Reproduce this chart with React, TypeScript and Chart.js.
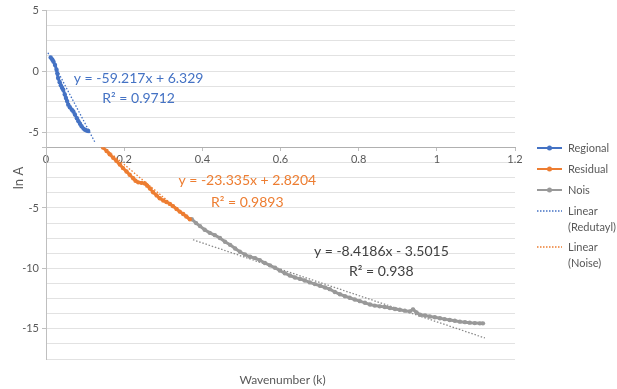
import { useEffect, useRef } from 'react';
import { Chart, registerables } from 'chart.js';

Chart.register(...registerables);

// ---- data ----
const xTickStep = 0.2;
const yStep = 1.25;

const regionalX = [0.012, 0.016, 0.019, 0.023, 0.027, 0.029, 0.031, 0.035, 0.038, 0.041, 0.044, 0.048, 0.051, 0.054, 0.057, 0.061, 0.066, 0.070, 0.074, 0.079, 0.083, 0.087, 0.091, 0.096, 0.100, 0.104, 0.108];
const regionalY = [1.11, 0.95, 0.79, 0.51, 0.11, -0.2, -0.57, -0.9, -1.16, -1.35, -1.52, -1.9, -2.2, -2.45, -2.74, -2.95, -3.15, -3.3, -3.55, -3.85, -4.09, -4.3, -4.5, -4.7, -4.8, -4.85, -4.9];

const residualX = [0.121, 0.129, 0.138, 0.146, 0.155, 0.163, 0.172, 0.180, 0.189, 0.197, 0.206, 0.214, 0.223, 0.229, 0.236, 0.244, 0.253, 0.259, 0.266, 0.274, 0.283, 0.291, 0.300, 0.308, 0.317, 0.325, 0.334, 0.342, 0.351, 0.359, 0.368];
const residualY = [0.85, 0.55, 0.28, 0.0, -0.28, -0.55, -0.85, -1.1, -1.41, -1.7, -1.98, -2.25, -2.54, -2.75, -2.88, -2.92, -2.97, -3.15, -3.39, -3.7, -3.96, -4.2, -4.38, -4.5, -4.66, -4.85, -5.08, -5.3, -5.5, -5.7, -5.93];

const noisX = [0.373, 0.384, 0.394, 0.406, 0.419, 0.432, 0.445, 0.458, 0.471, 0.484, 0.496, 0.509, 0.522, 0.535, 0.547, 0.560, 0.573, 0.586, 0.598, 0.611, 0.624, 0.637, 0.650, 0.662, 0.675, 0.688, 0.701, 0.714, 0.726, 0.739, 0.752, 0.765, 0.777, 0.790, 0.803, 0.816, 0.829, 0.841, 0.854, 0.867, 0.880, 0.893, 0.905, 0.918, 0.931, 0.939, 0.948, 0.957, 0.970, 0.982, 0.995, 1.008, 1.020, 1.033, 1.046, 1.059, 1.072, 1.084, 1.097, 1.110, 1.118];
const noisY = [-5.93, -6.25, -6.5, -6.8, -7.06, -7.25, -7.48, -7.8, -8.05, -8.35, -8.62, -8.85, -9.04, -9.15, -9.32, -9.55, -9.75, -9.95, -10.17, -10.4, -10.59, -10.75, -10.87, -11.0, -11.16, -11.3, -11.44, -11.58, -11.72, -11.95, -12.14, -12.3, -12.43, -12.58, -12.71, -12.85, -12.99, -13.08, -13.14, -13.2, -13.28, -13.36, -13.42, -13.5, -13.56, -13.39, -13.65, -13.84, -13.9, -13.98, -14.05, -14.13, -14.2, -14.27, -14.34, -14.41, -14.45, -14.49, -14.53, -14.55, -14.55];

// trendline end points as seen in the picture
const trendRegionalX = [0.005, 0.125];
const trendRegionalY = [1.5, -5.8];
const trendResidualX = [0.115, 0.372];
const trendResidualY = [0.9, -6.05];
const trendNoisX = [0.376, 1.123];
const trendNoisY = [-7.63, -15.76];

const seriesNames = ['Regional', 'Residual', 'Nois'];
const trendNames = ['Linear (Redutayl)', 'Linear (Noise)'];

const equationTexts = ['y = -59.217x + 6.329', 'y = -23.335x + 2.8204', 'y = -8.4186x - 3.5015'];
const r2Texts = ['R² = 0.9712', 'R² = 0.9893', 'R² = 0.938'];
const labelX = [0.237, 0.515, 0.858];
const eqLabelY = [-0.56, -2.76, -8.62];
const r2LabelY = [-2.2, -4.52, -10.29];
const labelAxis = ['yTop', 'yLow', 'yLow'];

const BLUE = '#4472C4';
const ORANGE = '#ED7D31';
const GRAY = '#999999';
const TEXT = '#595959';
const FONT = 'Lato, "Open Sans", sans-serif';

const zip = (xs: number[], ys: number[]) => xs.map((x, i) => ({ x, y: ys[i] }));

const overlayPlugin = {
  id: 'overlay',
  afterDraw(chart: any) {
    const ctx = chart.ctx as CanvasRenderingContext2D;
    const area = chart.chartArea;
    const xs = chart.scales.x;
    ctx.save();
    // trendline labels
    const colors = [BLUE, ORANGE, '#404040'];
    ctx.textAlign = 'center';
    ctx.textBaseline = 'middle';
    ctx.font = `14px ${FONT}`;
    for (let i = 0; i < equationTexts.length; i++) {
      const ys = chart.scales[labelAxis[i]];
      ctx.fillStyle = colors[i];
      ctx.fillText(equationTexts[i], xs.getPixelForValue(labelX[i]), ys.getPixelForValue(eqLabelY[i]));
      ctx.fillText(r2Texts[i], xs.getPixelForValue(labelX[i]), ys.getPixelForValue(r2LabelY[i]));
    }
    // axis titles
    ctx.fillStyle = TEXT;
    ctx.font = `12px ${FONT}`;
    ctx.fillText('Wavenumber (k)', (area.left + area.right) / 2 + 2, area.bottom + 21);
    ctx.save();
    ctx.font = `13px ${FONT}`;
    ctx.translate(19, 178);
    ctx.rotate(-Math.PI / 2);
    ctx.fillText('ln A', 0, 0);
    ctx.restore();

    // legend
    const lx = area.right + 22;
    const tx = area.right + 53;
    ctx.font = `11px ${FONT}`;
    ctx.textAlign = 'left';
    const items = [
      { label: [seriesNames[0]], color: BLUE, dashed: false, y: 148 },
      { label: [seriesNames[1]], color: ORANGE, dashed: false, y: 169 },
      { label: [seriesNames[2]], color: GRAY, dashed: false, y: 190 },
      { label: ['Linear', '(Redutayl)'], color: BLUE, dashed: true, y: 211 },
      { label: ['Linear', '(Noise)'], color: ORANGE, dashed: true, y: 247 },
    ];
    for (const it of items) {
      ctx.strokeStyle = it.color;
      ctx.lineWidth = it.dashed ? 1.3 : 2;
      ctx.setLineDash(it.dashed ? [1.5, 1.5] : []);
      ctx.beginPath();
      ctx.moveTo(lx, it.y);
      ctx.lineTo(lx + 25, it.y);
      ctx.stroke();
      ctx.setLineDash([]);
      if (!it.dashed) {
        ctx.fillStyle = it.color;
        ctx.beginPath();
        ctx.arc(lx + 12.5, it.y, 2.5, 0, Math.PI * 2);
        ctx.fill();
      }
      ctx.fillStyle = TEXT;
      it.label.forEach((t, k) => ctx.fillText(t, tx, it.y + k * 16.5));
    }
    ctx.restore();
  },
};

export default function App() {
  const ref = useRef<HTMLCanvasElement | null>(null);
  useEffect(() => {
    if (!ref.current) return;
    const tickColor = (c: any) =>
      c.tick && Math.abs(c.tick.value % 5) < 1e-9 ? '#bfbfbf' : 'rgba(0,0,0,0)';
    const point = (color: string) => ({
      borderColor: color,
      backgroundColor: color,
      pointRadius: 2.2,
      pointBorderWidth: 0,
      pointHoverRadius: 0,
      borderWidth: 3,
      showLine: true,
      order: 0,
    });
    const trend = (color: string) => ({
      borderColor: color,
      backgroundColor: color,
      pointRadius: 0,
      borderWidth: 1.3,
      borderDash: [1.5, 1.8],
      showLine: true,
      order: 1,
    });
    const chart = new Chart(ref.current, {
      type: 'scatter',
      data: {
        datasets: [
          { label: seriesNames[0], data: zip(regionalX, regionalY), yAxisID: 'yTop', ...point(BLUE) },
          { label: seriesNames[1], data: zip(residualX, residualY), yAxisID: 'yLow', ...point(ORANGE) },
          { label: seriesNames[2], data: zip(noisX, noisY), yAxisID: 'yLow', ...point(GRAY) },
          { label: trendNames[0], data: zip(trendRegionalX, trendRegionalY), yAxisID: 'yTop', ...trend(BLUE) },
          { label: trendNames[1], data: zip(trendResidualX, trendResidualY), yAxisID: 'yLow', ...trend(ORANGE) },
          { label: 'Linear (Nois)', data: zip(trendNoisX, trendNoisY), yAxisID: 'yLow', ...trend('#8a8a8a') },
        ] as any,
      },
      options: {
        responsive: false,
        animation: false,
        devicePixelRatio: 1,
        layout: { padding: { left: 8, top: 10, right: 102, bottom: 30 } },
        plugins: { legend: { display: false }, tooltip: { enabled: false } },
        scales: {
          x: {
            type: 'linear',
            min: 0,
            max: 1.2,
            position: { yLow: 0 } as any,
            ticks: {
              stepSize: xTickStep,
              autoSkip: false,
              padding: 2,
              color: TEXT,
              font: { family: FONT, size: 11 },
              callback: (v: any) => String(Math.round(Number(v) * 10) / 10),
            },
            grid: { drawOnChartArea: false, tickLength: 3, tickColor: '#bfbfbf' },
            border: { color: '#b0b0b0', width: 1 },
          },
          yLow: {
            type: 'linear',
            position: 'left',
            stack: 'y',
            stackWeight: 209,
            min: -17.5,
            max: 0,
            ticks: {
              stepSize: yStep,
              autoSkip: false,
              color: TEXT,
              padding: 3,
              font: { family: FONT, size: 11 },
              callback: (v: any) => (Number(v) !== 0 && Math.abs(Number(v) % 5) < 1e-9 ? String(v) : ''),
            },
            grid: { color: '#e2e2e2', tickLength: 4, tickColor },
            border: { color: '#bfbfbf' },
            afterFit: (s: any) => { s.width = 38; },
          },
          yTop: {
            type: 'linear',
            position: 'left',
            stack: 'y',
            stackWeight: 136,
            min: -6.25,
            max: 5,
            ticks: {
              stepSize: yStep,
              autoSkip: false,
              color: TEXT,
              padding: 3,
              font: { family: FONT, size: 11 },
              callback: (v: any) => (Math.abs(Number(v) % 5) < 1e-9 ? String(v) : ''),
            },
            grid: { color: '#e2e2e2', tickLength: 4, tickColor },
            border: { color: '#bfbfbf' },
            afterFit: (s: any) => { s.width = 38; },
          },
        } as any,
      },
      plugins: [overlayPlugin],
    });
    return () => chart.destroy();
  }, []);
  return (
    <div style={{ position: 'fixed', left: 0, top: 0, width: 617, height: 389, background: '#fff' }}>
      <canvas ref={ref} width={617} height={389} />
    </div>
  );
}
